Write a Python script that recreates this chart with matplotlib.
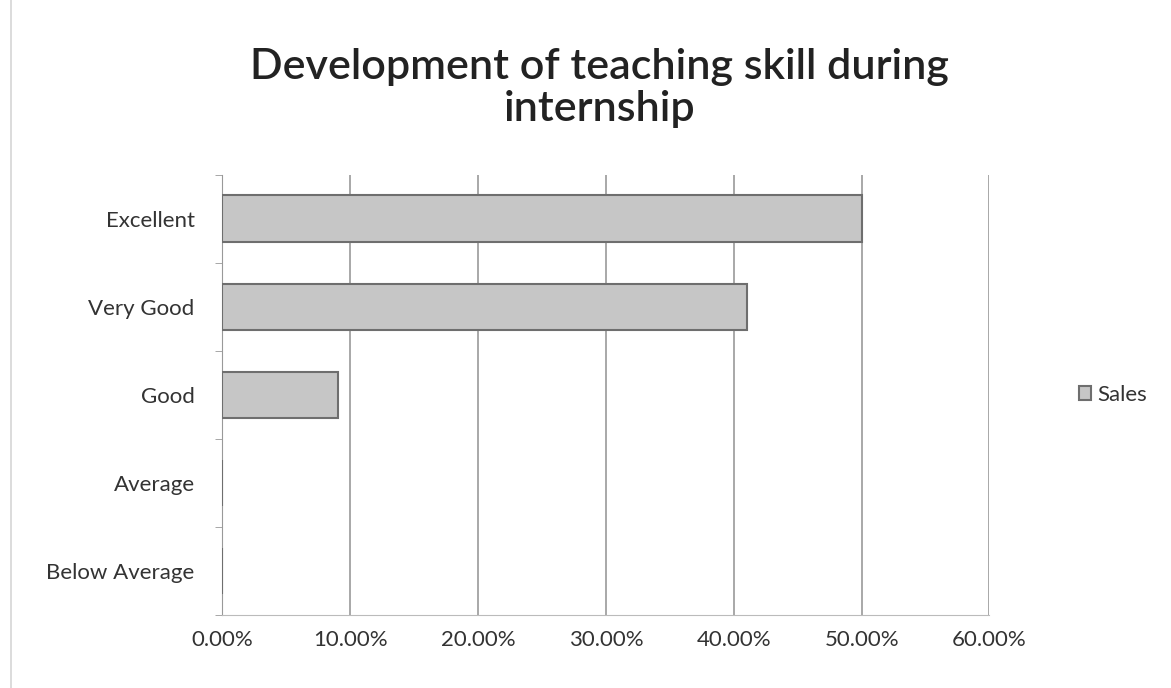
import matplotlib.pyplot as plt
import numpy as np
from matplotlib.ticker import FuncFormatter, FixedLocator

categories = ['Excellent', 'Very Good', 'Good', 'Average', 'Below Average']
sales = [50.0, 41.0, 9.0, 0.0, 0.0]
xticks = [0, 10, 20, 30, 40, 50, 60]

plt.rcParams['font.family'] = ['Lato', 'DejaVu Sans']

fig = plt.figure(figsize=(11.71, 6.88), dpi=100)
ax = fig.add_axes([0.19, 0.106, 0.655, 0.64])

y = np.arange(len(categories))
ax.barh(y, sales, height=0.53, color='#c6c6c6', edgecolor='#6e6e6e',
        linewidth=1.5, label='Sales', zorder=3)

ax.set_ylim(len(categories) - 0.5, -0.5)
ax.set_yticks(y)
ax.set_yticklabels(categories, fontsize=16, color='#333333')
ax.yaxis.set_minor_locator(FixedLocator(np.arange(-0.5, len(categories), 1)))
ax.tick_params(axis='y', which='major', length=0, pad=20)
ax.tick_params(axis='y', which='minor', length=5, color='#999999')

ax.set_xlim(0, 60)
ax.set_xticks(xticks)
ax.xaxis.set_major_formatter(FuncFormatter(lambda v, p: f'{v:.2f}%'))
ax.tick_params(axis='x', length=0, labelsize=16, labelcolor='#333333', pad=11)
ax.grid(axis='x', color='#9a9a9a', linewidth=1.2, zorder=0)

for s in ['top', 'right']:
    ax.spines[s].set_visible(False)
ax.spines['left'].set_color('#999999')
ax.spines['bottom'].set_color('#bbbbbb')

fig.suptitle('Development of teaching skill during\ninternship', x=0.512, y=0.93,
             fontsize=31, fontweight='semibold', color='#222222', linespacing=1.12)

ax.legend(loc='center left', bbox_to_anchor=(1.09, 0.5), frameon=False,
          fontsize=16, handlelength=0.55, handleheight=0.55, handletextpad=0.3,
          labelcolor='#333333')

# faint chart-area border on the left
fig.add_artist(plt.Line2D([0.009, 0.009], [0.0, 1.0], color='#d5d5d5',
                          linewidth=1.2, transform=fig.transFigure))

fig.savefig('out.png', dpi=100, facecolor='white')
